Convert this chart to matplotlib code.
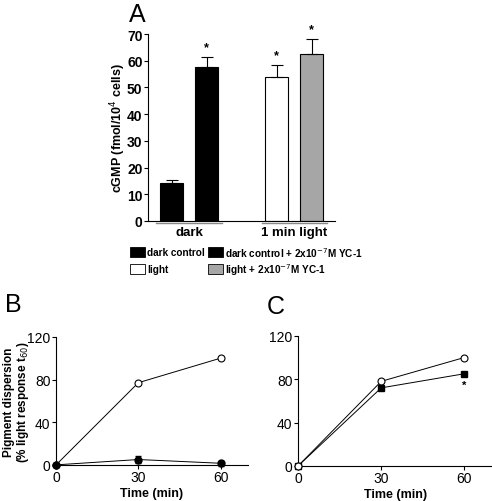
import matplotlib.pyplot as plt
from matplotlib.patches import Rectangle
from matplotlib.transforms import blended_transform_factory

plt.rcParams['font.family'] = ['Liberation Sans', 'DejaVu Sans']

# panel A: cGMP levels
bar_labels = ['dark control', 'dark control + 2x10$^{-7}$M YC-1',
              'light', 'light + 2x10$^{-7}$M YC-1']
cgmp = [14.3, 57.5, 54.0, 62.5]
cgmp_err = [1.2, 3.8, 4.5, 5.5]
bar_colors = ['black', 'black', 'white', '#a6a6a6']
group_labels = ['dark', '1 min light']

# panel B / C: pigment dispersion time course
time = [0, 30, 60]
b_light = [0, 77, 100]
b_dark = [0, 5, 1.5]
b_dark_err = [0, 3, 2.5]
c_light = [0, 78, 100]
c_yc1 = [0, 72, 85]

W, H = 492, 502
fig = plt.figure(figsize=(W / 100, H / 100), dpi=100)

##### Panel A #####
axA = fig.add_axes([0.301, 0.558, 0.380, 0.372])
pos = [1, 2, 4, 5]
axA.bar(pos, cgmp, width=0.66, color=bar_colors, edgecolor='black', linewidth=0.8)
axA.errorbar(pos, cgmp, yerr=[[0] * 4, cgmp_err], fmt='none', ecolor='black',
             elinewidth=0.8, capsize=4, capthick=0.8)
for p, v, e in zip(pos[1:], cgmp[1:], cgmp_err[1:]):
    axA.text(p, v + e + 1.5, '*', ha='center', va='bottom', fontsize=9, fontweight='bold')
axA.set_xlim(0.33, 5.67)
axA.set_ylim(0, 70)
axA.set_yticks(range(0, 71, 10))
axA.set_xticks([])
axA.spines['top'].set_visible(False)
axA.spines['right'].set_visible(False)
axA.tick_params(axis='y', labelsize=10, length=3, width=0.8, pad=1)
for t in axA.get_yticklabels():
    t.set_fontweight('bold')
axA.set_ylabel('cGMP (fmol/10$^4$ cells)', fontsize=9, fontweight='bold')
axA.yaxis.set_label_coords(-0.11, 0.5)

trans = blended_transform_factory(axA.transData, axA.transAxes)
for (x0, x1), lab in zip([(1, 2), (4, 5)], group_labels):
    axA.plot([x0 - 0.43, x1 + 0.43], [-0.01, -0.01], color='#888888', lw=1.0,
             transform=trans, clip_on=False)
    axA.text((x0 + x1) / 2, -0.028, lab, ha='center', va='top', fontsize=9.5,
             fontweight='bold', transform=trans)

# legend drawn by hand (two columns, two rows)
legend_slots = [(130, 253), (208, 253), (130, 270), (208, 270)]
for (px, py), lab, col in zip(legend_slots, bar_labels, bar_colors):
    fig.add_artist(Rectangle((px / W, 1 - (py + 5) / H), 15 / W, 10 / H,
                             facecolor=col, edgecolor='black', linewidth=0.6,
                             transform=fig.transFigure))
    fig.text((px + 17) / W, 1 - py / H, lab, fontsize=7.2, fontweight='bold',
             ha='left', va='center')

##### Panels B and C #####
def time_axes(rect):
    ax = fig.add_axes(rect)
    ax.set_xlim(0, 70)
    ax.set_ylim(0, 120)
    ax.set_xticks([0, 30, 60])
    ax.set_yticks([0, 40, 80, 120])
    ax.spines['top'].set_visible(False)
    ax.spines['right'].set_visible(False)
    ax.tick_params(labelsize=10, length=3, width=0.8, pad=1)
    ax.set_xlabel('Time (min)', fontsize=9, fontweight='bold', labelpad=2)
    return ax

axB = time_axes([0.114, 0.072, 0.390, 0.255])
axB.plot(time, b_light, color='black', lw=0.7, marker='o', ms=5,
         mfc='white', mec='black', mew=0.8, clip_on=False, zorder=3)
axB.errorbar(time, b_dark, yerr=b_dark_err, color='black', lw=0.7, marker='o',
             ms=5, mfc='black', mec='black', capsize=2, elinewidth=0.8,
             clip_on=False, zorder=3)
axB.set_ylabel('Pigment dispersion\n(% light response t$_{60}$)', fontsize=8.5,
               fontweight='bold', linespacing=1.05)
axB.yaxis.set_label_coords(-0.13, 0.5)

axC = time_axes([0.606, 0.070, 0.394, 0.259])
axC.plot(time, c_light, color='black', lw=0.7, marker='o', ms=5,
         mfc='white', mec='black', mew=0.8, clip_on=False, zorder=4)
axC.plot(time, c_yc1, color='black', lw=0.7, marker='s', ms=5,
         mfc='black', mec='black', clip_on=False, zorder=3)
axC.text(60, c_yc1[2] - 6, '*', ha='center', va='top', fontsize=8, fontweight='bold')

fig.text(0.278, 0.970, 'A', fontsize=18, ha='center', va='center')
fig.text(0.028, 0.392, 'B', fontsize=18, ha='center', va='center')
fig.text(0.560, 0.389, 'C', fontsize=18, ha='center', va='center')

fig.savefig('out.png', dpi=100)
